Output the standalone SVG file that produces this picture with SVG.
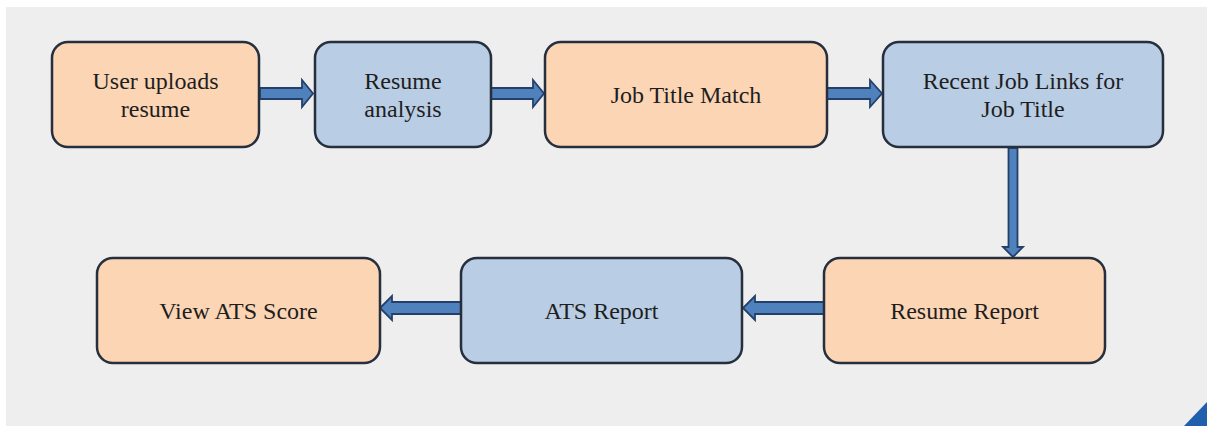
<svg xmlns="http://www.w3.org/2000/svg" width="1207" height="426" viewBox="0 0 1207 426">
<style>
.box{stroke:#262f3d;stroke-width:2.5}
.o{fill:#fcd5b5}
.b{fill:#b9cde5}
.t{font-family:"Liberation Serif","Times New Roman",serif;font-size:24px;fill:#1e1e1e;text-anchor:middle}
.arr{fill:#4f81bd;stroke:#24406a;stroke-width:1.8;stroke-linejoin:miter}
</style>
<rect width="1207" height="426" fill="#ffffff"/>
<rect x="6" y="7" width="1201" height="419" fill="#eeeeee"/>
<polygon points="1207,402 1207,426 1184,426" fill="#1f5fae"/>
<g id="connectors">
<polygon class="arr" points="260,88 302,88 302,80 313,93.5 302,107 302,99 260,99"/>
<polygon class="arr" points="491,88 533,88 533,80 544,93.5 533,107 533,99 491,99"/>
<polygon class="arr" points="827,88 870,88 870,80 882,93.5 870,107 870,99 827,99"/>
<polygon class="arr" points="1008.5,148 1017.5,148 1017.5,247 1023,247 1013,257 1003,247 1008.5,247"/>
<polygon class="arr" points="824,302 755,302 755,296 743,308 755,320 755,314 824,314"/>
<polygon class="arr" points="461,302 392,302 392,296 380,308 392,320 392,314 461,314"/>
</g>
<g id="n1"><rect class="box o" x="52" y="42" width="207" height="105" rx="16"/><text class="t" x="155.5" y="89">User uploads</text><text class="t" x="155.5" y="117">resume</text></g>
<g id="n2"><rect class="box b" x="315" y="42" width="176" height="105" rx="16"/><text class="t" x="403" y="89">Resume</text><text class="t" x="403" y="117">analysis</text></g>
<g id="n3"><rect class="box o" x="545" y="42" width="282" height="105" rx="16"/><text class="t" x="686" y="103">Job Title Match</text></g>
<g id="n4"><rect class="box b" x="883" y="42" width="280" height="105" rx="16"/><text class="t" x="1023" y="89">Recent Job Links for</text><text class="t" x="1023" y="117">Job Title</text></g>
<g id="n5"><rect class="box o" x="824" y="258" width="281" height="105" rx="16"/><text class="t" x="964.5" y="319">Resume Report</text></g>
<g id="n6"><rect class="box b" x="461" y="258" width="281" height="105" rx="16"/><text class="t" x="601.5" y="319">ATS Report</text></g>
<g id="n7"><rect class="box o" x="97" y="258" width="283" height="105" rx="16"/><text class="t" x="238.5" y="319">View ATS Score</text></g>
</svg>
